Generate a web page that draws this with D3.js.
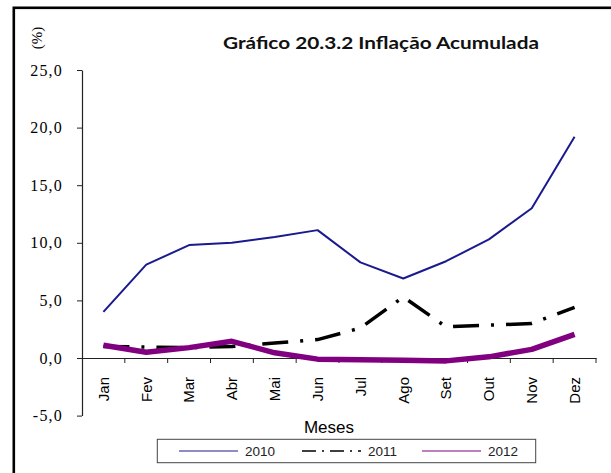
<!DOCTYPE html>
<html>
<head>
<meta charset="utf-8">
<script src="https://cdn.jsdelivr.net/npm/d3@7"></script>
<style>
  body { margin: 0; background: #fff; }
  svg { display: block; }
</style>
</head>
<body>
<svg id="chart" width="611" height="473"></svg>
<script>
// Data
const months = ["Jan", "Fev", "Mar", "Abr", "Mai", "Jun", "Jul", "Ago", "Set", "Out", "Nov", "Dez"];
const years = ["2010", "2011", "2012"];
const values2010 = [4.0, 8.1, 9.8, 10.0, 10.5, 11.1, 8.3, 6.9, 8.4, 10.3, 13.0, 19.2];
const values2011 = [1.0, 0.95, 0.9, 1.0, 1.3, 1.6, 2.6, 5.3, 2.7, 2.85, 3.0, 4.4];
const values2012 = [1.1, 0.5, 0.9, 1.45, 0.45, -0.1, -0.15, -0.2, -0.25, 0.1, 0.75, 2.05];
const yTicks = [-5, 0, 5, 10, 15, 20, 25];

const svg = d3.select("#chart");

// outer frame (cropped on right and bottom)
svg.append("rect")
  .attr("x", 13.8).attr("y", 7.8)
  .attr("width", 700).attr("height", 600)
  .attr("fill", "none").attr("stroke", "#000").attr("stroke-width", 2.6);

const x = d3.scaleBand().domain(months).range([82, 596]);
const y = d3.scaleLinear().domain([-5, 25]).range([415.6, 70]);

// title (stretched a little like the original)
svg.append("text")
  .attr("x", 223).attr("y", 49)
  .attr("textLength", 316)
  .attr("lengthAdjust", "spacingAndGlyphs")
  .style("font-family", "Lato, 'Open Sans', sans-serif")
  .style("font-weight", "bold")
  .style("font-size", "17px")
  .attr("fill", "#111")
  .text("Gráfico 20.3.2 Inflação Acumulada");

// (%) label
svg.append("text")
  .attr("transform", "translate(37,38) rotate(-90)")
  .attr("text-anchor", "middle")
  .attr("dy", "0.35em")
  .style("font-family", "'Liberation Serif', serif")
  .style("font-size", "15px")
  .text("(%)");

// y axis
const yAxis = d3.axisLeft(y)
  .tickValues(yTicks)
  .tickSize(5)
  .tickSizeOuter(0)
  .tickFormat(d => d.toFixed(1).replace(".", ","));

const gy = svg.append("g")
  .attr("transform", "translate(82,0)")
  .call(yAxis);
gy.select(".domain").attr("stroke", "#222").attr("stroke-width", 1.2);
gy.selectAll(".tick line").attr("stroke", "#222");
gy.selectAll(".tick text")
  .attr("x", -19)
  .attr("fill", "#000")
  .style("font-family", "'Liberation Serif', serif")
  .style("font-size", "16px")
  .style("letter-spacing", "1.2px");

// x axis at zero
const gx = svg.append("g")
  .attr("transform", `translate(0,${y(0)})`)
  .call(d3.axisBottom(x).tickSize(0).tickFormat(""));
gx.select(".domain").attr("stroke", "#222").attr("stroke-width", 1);

// category boundary ticks
const bounds = months.slice(1).map(m => x(m)).concat([x.range()[1]]);
gx.selectAll(".bound")
  .data(bounds)
  .enter()
  .append("line")
  .attr("class", "bound")
  .attr("x1", d => d).attr("x2", d => d)
  .attr("y1", 0).attr("y2", 5)
  .attr("stroke", "#222");

// month labels
svg.selectAll(".month")
  .data(months)
  .enter()
  .append("text")
  .attr("class", "month")
  .attr("transform", d => `translate(${x(d) + x.bandwidth() / 2},377) rotate(-90)`)
  .attr("text-anchor", "end")
  .attr("dy", "0.36em")
  .style("font-family", "'Liberation Sans', sans-serif")
  .style("font-size", "15px")
  .text(d => d);

// x axis title
svg.append("text")
  .attr("x", 329).attr("y", 433)
  .attr("text-anchor", "middle")
  .style("font-family", "'Liberation Sans', sans-serif")
  .style("font-size", "17px")
  .text("Meses");

// lines
const line = d3.line()
  .x((d, i) => x(months[i]) + x.bandwidth() / 2)
  .y(d => y(d));

const series = [
  { name: years[0], values: values2010, color: "#1a1a8f", width: 2, dash: null, legendWidth: 1.2, legendDash: null },
  { name: years[1], values: values2011, color: "#000", width: 3.5, dash: "26,12,3,12", legendWidth: 1.6, legendDash: "14,6,2,6" },
  { name: years[2], values: values2012, color: "#800080", width: 5.5, dash: null, legendWidth: 1.2, legendDash: null }
];

series.forEach(s => {
  svg.append("path")
    .datum(s.values)
    .attr("fill", "none")
    .attr("stroke", s.color)
    .attr("stroke-width", s.width)
    .attr("stroke-linejoin", "round")
    .attr("stroke-dasharray", s.dash)
    .attr("d", line);
});

// legend
svg.append("rect")
  .attr("x", 157.3).attr("y", 439.3)
  .attr("width", 378.4).attr("height", 23.4)
  .attr("fill", "#fff").attr("stroke", "#444").attr("stroke-width", 1);

const legendX = [179, 302, 422];
series.forEach((s, i) => {
  const lx = legendX[i];
  svg.append("line")
    .attr("x1", lx).attr("x2", lx + 59)
    .attr("y1", 451).attr("y2", 451)
    .attr("stroke", s.color)
    .attr("stroke-width", s.legendWidth)
    .attr("stroke-dasharray", s.legendDash);
  svg.append("text")
    .attr("x", lx + 66).attr("y", 451)
    .attr("dy", "0.36em")
    .style("font-family", "'Liberation Sans', sans-serif")
    .style("font-size", "13.5px")
    .attr("fill", "#222")
    .text(s.name);
});
</script>
</body>
</html>
